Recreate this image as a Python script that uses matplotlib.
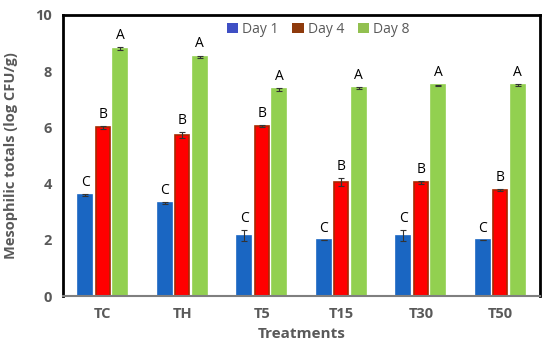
import matplotlib.pyplot as plt
from matplotlib.patches import Patch
import numpy as np

plt.rcParams['font.family'] = ['Open Sans', 'DejaVu Sans']

treatments = ["TC", "TH", "T5", "T15", "T30", "T50"]
day1 = [3.6, 3.3, 2.15, 2.0, 2.15, 2.0]
day4 = [6.0, 5.72, 6.05, 4.05, 4.05, 3.78]
day8 = [8.8, 8.5, 7.35, 7.4, 7.5, 7.5]
err1 = [0.03, 0.03, 0.2, 0.0, 0.2, 0.0]
err4 = [0.05, 0.1, 0.03, 0.15, 0.05, 0.03]
err8 = [0.05, 0.05, 0.04, 0.03, 0.02, 0.03]
letters = ["C", "B", "A"]

fig = plt.figure(figsize=(5.5, 3.55), dpi=100)
ax = fig.add_axes([0.1145, 0.166, 0.8675, 0.792])

x = np.arange(len(treatments))
w = 0.18
step = 0.22
series = [
    (day1, err1, "#1a66c2", "#1a66c2", "Day 1", "#3f4fc4"),
    (day4, err4, "#ff0000", "#a82800", "Day 4", "#8e3a0c"),
    (day8, err8, "#92d050", "#92d050", "Day 8", "#92c050"),
]
handles = []
for i, (vals, errs, col, edge, lab, legcol) in enumerate(series):
    pos = x + (i - 1) * step
    ax.bar(pos, vals, width=w, color=col, edgecolor=edge, linewidth=1.2,
           yerr=errs, error_kw=dict(ecolor="#333333", capsize=2.5, elinewidth=0.8, capthick=0.8))
    handles.append(Patch(facecolor=legcol, label=lab))
    for p, v, e in zip(pos, vals, errs):
        ax.text(p, v + e + 0.15, letters[i], ha="center", va="bottom", fontsize=10, color="black")

ax.set_xlim(-0.5, len(treatments) - 0.5)
ax.set_ylim(0, 10)
ax.set_yticks([0, 2, 4, 6, 8, 10])
ax.set_xticks(x)
ax.set_xticklabels(treatments)
ax.tick_params(length=0, labelsize=10.5, labelcolor="#595959", pad=8)
for lab in ax.get_xticklabels() + ax.get_yticklabels():
    lab.set_fontweight("bold")
ax.set_xlabel("Treatments", fontsize=11, fontweight="bold", color="#595959", labelpad=4)
ax.set_ylabel("Mesophilic totals (log CFU/g)", fontsize=10.5, fontweight="bold", color="#595959", labelpad=12)

for s in ["left", "top", "right"]:
    ax.spines[s].set_linewidth(2)
    ax.spines[s].set_color("black")
ax.spines["bottom"].set_linewidth(1.5)
ax.spines["bottom"].set_color("#7f7f7f")

ax.legend(handles=handles, loc="upper center", ncol=3, frameon=False, fontsize=10, labelcolor="#595959",
          handlelength=0.8, handleheight=0.8, handletextpad=0.3, columnspacing=1.0,
          bbox_to_anchor=(0.535, 1.02))

fig.savefig("out.png", dpi=100)
